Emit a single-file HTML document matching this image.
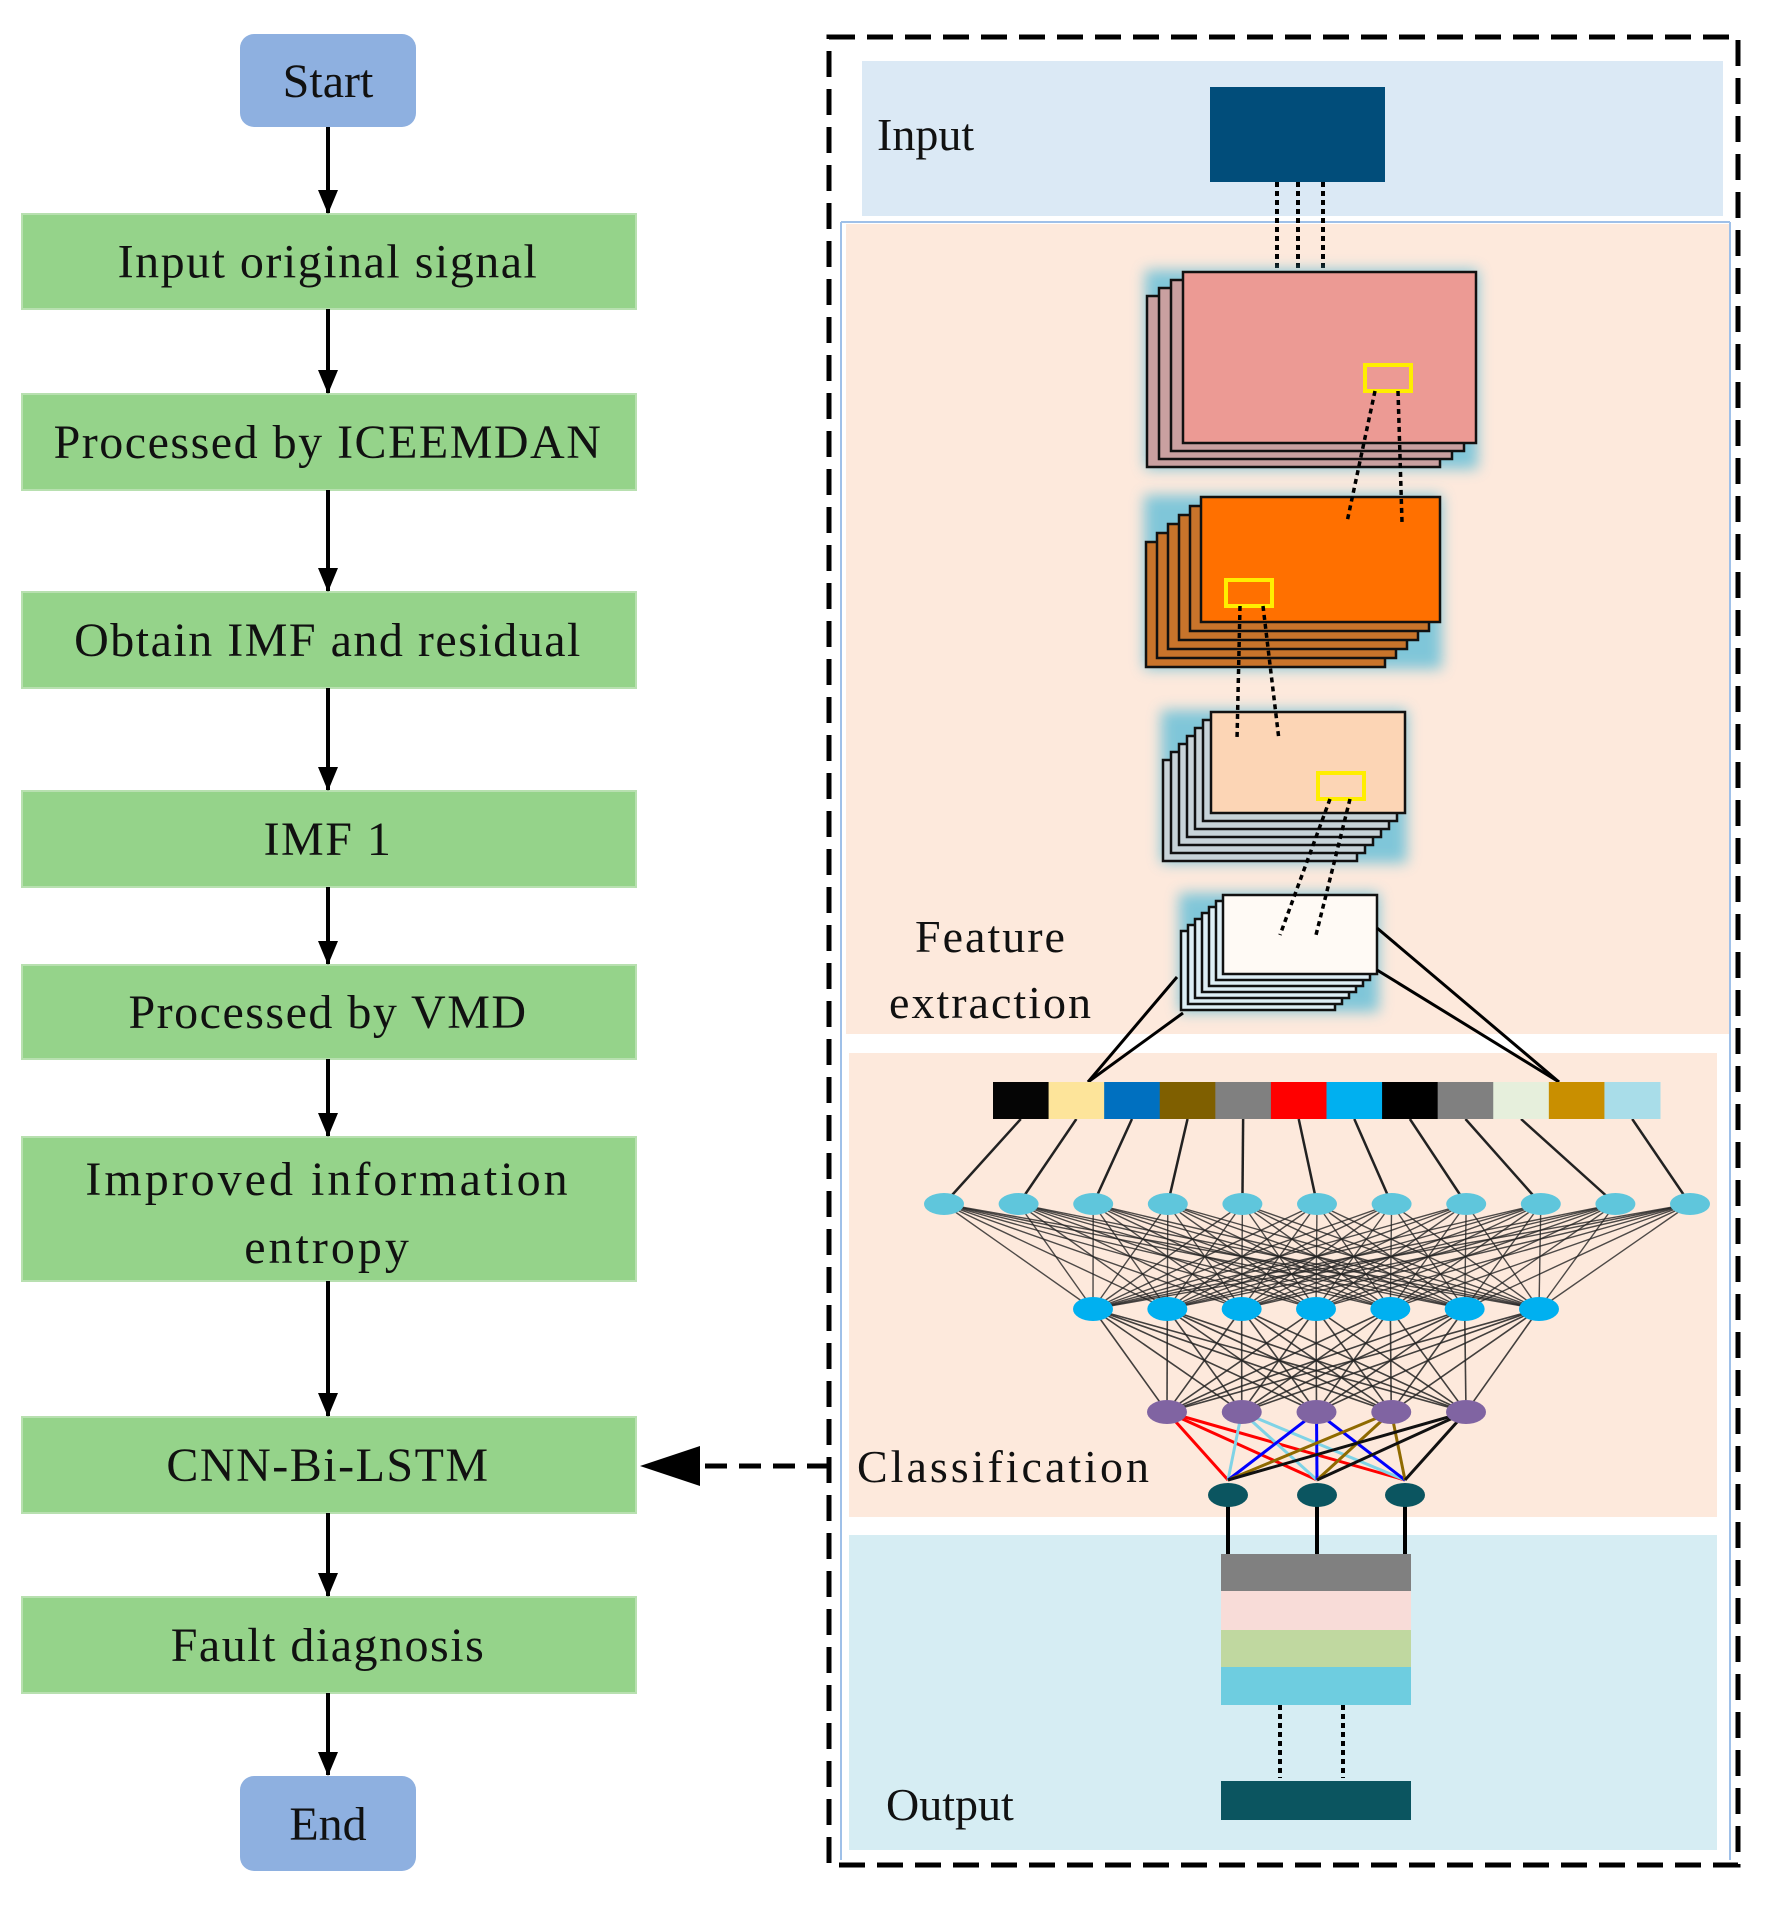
<!DOCTYPE html>
<html><head><meta charset="utf-8"><style>
html,body{margin:0;padding:0;background:#fff}
svg{display:block}
text{font-family:"Liberation Serif",serif;fill:#111}
</style></head><body>
<svg id="s" width="1774" height="1905" viewBox="0 0 1774 1905" xmlns="http://www.w3.org/2000/svg">
<defs>
<marker id="ah" markerWidth="24" markerHeight="30" refX="23" refY="12" orient="auto" markerUnits="userSpaceOnUse" viewBox="0 0 24 24"><path d="M0,2 L24,12 L0,22 z" fill="#000"/></marker>
<filter id="gl" x="-20%" y="-20%" width="140%" height="140%"><feGaussianBlur stdDeviation="7"/></filter>
</defs>
<g id="left"></g>
<rect x="862" y="61" width="861" height="155" fill="#dbe9f5"/>
<rect x="846" y="224" width="883" height="810" fill="#fde9dc"/>
<rect x="849" y="1053" width="868" height="464" fill="#fde9dc"/>
<rect x="849" y="1535" width="868" height="315" fill="#d6edf3"/>
<line x1="841" y1="222" x2="841" y2="1860" stroke="#9fc0e8" stroke-width="2"/>
<line x1="841" y1="222" x2="1730" y2="222" stroke="#9fc0e8" stroke-width="2"/>
<line x1="1730" y1="222" x2="1730" y2="1860" stroke="#9fc0e8" stroke-width="2"/>
<rect x="829" y="37" width="909" height="1828" fill="none" stroke="#000" stroke-width="5" stroke-dasharray="26,12"/>
<g id="right"></g>
<text x="877" y="150" font-size="46">Input</text>
<text x="991" y="952" font-size="46" text-anchor="middle" letter-spacing="2">Feature</text>
<text x="991" y="1018" font-size="46" text-anchor="middle" letter-spacing="2">extraction</text>
<text x="857" y="1482" font-size="46" letter-spacing="3">Classification</text>
<text x="886" y="1820" font-size="46">Output</text>
</svg>
<script>
const NS="http://www.w3.org/2000/svg";
function el(p,t,a,txt){const e=document.createElementNS(NS,t);for(const k in a)e.setAttribute(k,a[k]);if(txt!==undefined)e.textContent=txt;p.appendChild(e);return e;}
const L=document.getElementById('left'),R=document.getElementById('right');
el(L,'rect',{x:240,y:34,width:176,height:93,rx:14,fill:'#8eb0e0'});
el(L,'text',{x:328,y:97,'font-size':48,'text-anchor':'middle'},'Start');
el(L,'rect',{x:240,y:1776,width:176,height:95,rx:14,fill:'#8eb0e0'});
el(L,'text',{x:328,y:1840,'font-size':48,'text-anchor':'middle'},'End');
const boxes=[[214,309,['Input original signal']],[394,490,['Processed by ICEEMDAN']],[592,688,['Obtain IMF  and residual']],[791,887,['IMF  1']],[965,1059,['Processed by VMD']],[1137,1281,['Improved information','entropy']],[1417,1513,['CNN-Bi-LSTM']],[1597,1693,['Fault diagnosis']]];
boxes.forEach(b=>{el(L,'rect',{x:22,y:b[0],width:614,height:b[1]-b[0],fill:'#95d38a',stroke:'#b8e0b0','stroke-width':2});
 const c=(b[0]+b[1])/2;
 if(b[2].length==1)el(L,'text',{x:328,y:c+16,'font-size':48,'text-anchor':'middle','letter-spacing':1.5,'xml:space':'preserve'},b[2][0]);
 else{el(L,'text',{x:328,y:c-14,'font-size':48,'text-anchor':'middle','letter-spacing':3},b[2][0]);el(L,'text',{x:328,y:c+54,'font-size':48,'text-anchor':'middle','letter-spacing':3},b[2][1]);}
});
const ys=[[127,214],[309,394],[490,592],[688,791],[887,965],[1059,1137],[1281,1417],[1513,1597],[1693,1776]];
ys.forEach(a=>el(L,'line',{x1:328,y1:a[0],x2:328,y2:a[1]-1,stroke:'#000','stroke-width':4,'marker-end':'url(#ah)'}));
el(L,'line',{x1:829,y1:1466,x2:700,y2:1466,stroke:'#000','stroke-width':5,'stroke-dasharray':'22,12'});
el(L,'path',{d:'M640,1466 L700,1446 L700,1486 z',fill:'#000'});
el(R,'rect',{x:1210,y:87,width:175,height:95,fill:'#014d7a'});
[1277,1298,1323].forEach(x=>el(R,'line',{x1:x,y1:182,x2:x,y2:270,stroke:'#000','stroke-width':4,'stroke-dasharray':'5,4'}));
function stack(fx,fy,fw,fh,n,dx,dy,front,back){
 el(R,'rect',{x:fx-dx*(n-1)-2,y:fy-2,width:fw+dx*(n-1)+4,height:fh+dy*(n-1)+4,fill:'#4bb8d8',filter:'url(#gl)',opacity:0.7});
 for(let i=n-1;i>=0;i--){el(R,'rect',{x:fx-dx*i,y:fy+dy*i,width:fw,height:fh,fill:i==0?front:back,stroke:'#111','stroke-width':2.5});}
}
stack(1183,272,293,171,4,12,8,'#ec9a94','#c9a0a0');
stack(1201,497,239,125,6,11,9,'#ff7000','#c8742b');
stack(1211,712,194,101,7,8,8,'#fcd5b5','#c7d3d8');
stack(1223,895,154,79,7,7,6,'#fffaf5','#ddeef5');
el(R,'rect',{x:1365,y:365,width:46,height:26,fill:'none',stroke:'#ffee00','stroke-width':4});
el(R,'rect',{x:1226,y:580,width:46,height:26,fill:'none',stroke:'#ffee00','stroke-width':4});
el(R,'rect',{x:1318,y:773,width:46,height:26,fill:'none',stroke:'#ffee00','stroke-width':4});
const dl=[[1375,391,1347,522],[1398,391,1402,522],[1240,606,1237,740],[1263,606,1279,740],[1330,799,1280,935],[1350,799,1316,935]];
dl.forEach(d=>el(R,'line',{x1:d[0],y1:d[1],x2:d[2],y2:d[3],stroke:'#000','stroke-width':3.5,'stroke-dasharray':'5,4'}));
[[1177,977],[1183,1013]].forEach(p=>el(R,'line',{x1:p[0],y1:p[1],x2:1088,y2:1082,stroke:'#000','stroke-width':3}));
[[1377,928],[1377,970]].forEach(p=>el(R,'line',{x1:p[0],y1:p[1],x2:1559,y2:1082,stroke:'#000','stroke-width':3}));
const cols=['#050505','#fde49a','#0070c0','#7f5f00','#808080','#ff0000','#00b0f0','#000000','#808080','#e6efdc','#c98f00','#a9dde9'];
const sw=(1660-993)/12;
const l1=[],l2=[],l3=[],l4=[1228,1317,1405];
for(let i=0;i<11;i++)l1.push(944+i*(1690-944)/10);
for(let i=0;i<7;i++)l2.push(1093+i*(1539-1093)/6);
for(let i=0;i<5;i++)l3.push(1167+i*(1466-1167)/4);
const map=[[0,0],[1,1],[2,2],[3,3],[4,4],[5,5],[6,6],[7,7],[8,8],[9,9],[11,10]];
map.forEach(m=>el(R,'line',{x1:993+sw*(m[0]+0.5),y1:1119,x2:l1[m[1]],y2:1204,stroke:'#222','stroke-width':2.5}));
cols.forEach((c,i)=>el(R,'rect',{x:993+sw*i,y:1082,width:sw+0.5,height:37,fill:c}));
l1.forEach(a=>l2.forEach(b=>el(R,'line',{x1:a,y1:1204,x2:b,y2:1309,stroke:'#222','stroke-width':1.4,opacity:0.8})));
l2.forEach(a=>l3.forEach(b=>el(R,'line',{x1:a,y1:1309,x2:b,y2:1412,stroke:'#222','stroke-width':1.6,opacity:0.85})));
const cc=['#ff0000','#7fd3e6','#0000ff','#8f6a00','#111'];
l3.forEach((a,i)=>l4.forEach(b=>el(R,'line',{x1:a,y1:1412,x2:b,y2:1480,stroke:cc[i],'stroke-width':3})));
l1.forEach(x=>el(R,'ellipse',{cx:x,cy:1204,rx:20,ry:11,fill:'#5fc6dc'}));
l2.forEach(x=>el(R,'ellipse',{cx:x,cy:1309,rx:20,ry:12,fill:'#00b0f0'}));
l3.forEach(x=>el(R,'ellipse',{cx:x,cy:1412,rx:20,ry:12,fill:'#8064a2'}));
l4.forEach(x=>{el(R,'line',{x1:x,y1:1495,x2:x,y2:1554,stroke:'#000','stroke-width':4});el(R,'ellipse',{cx:x,cy:1495,rx:20,ry:12,fill:'#0b5560'});});
[['#808080',1554,1591],['#f8dcd8',1591,1630],['#c0d8a0',1630,1667],['#6ecde0',1667,1705]].forEach(b=>el(R,'rect',{x:1221,y:b[1],width:190,height:b[2]-b[1],fill:b[0]}));
[1280,1343].forEach(x=>el(R,'line',{x1:x,y1:1705,x2:x,y2:1778,stroke:'#000','stroke-width':4,'stroke-dasharray':'5,4'}));
el(R,'rect',{x:1221,y:1781,width:190,height:39,fill:'#0b5560'});
</script>
</body></html>
